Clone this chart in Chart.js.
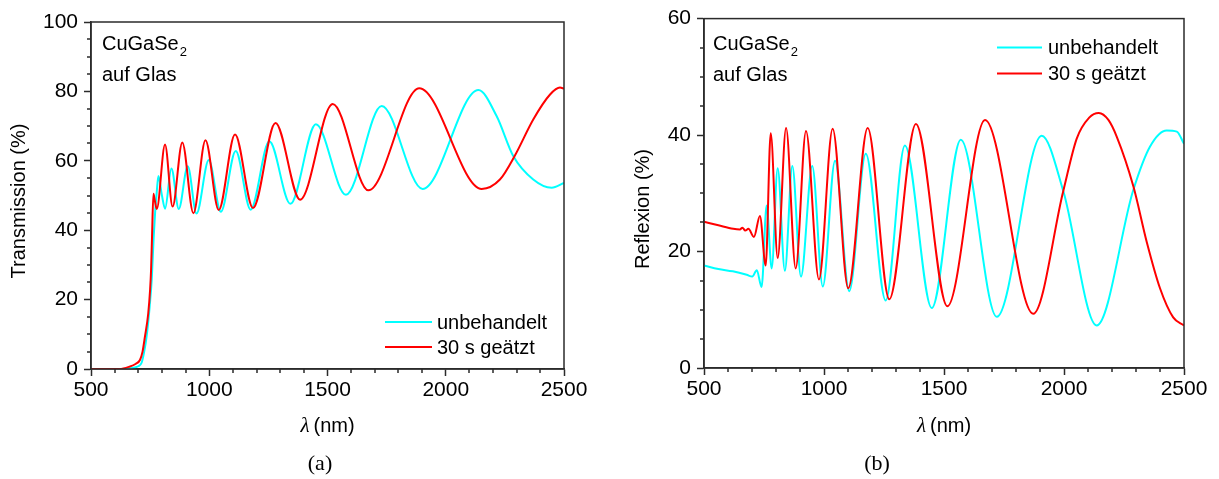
<!DOCTYPE html>
<html>
<head>
<meta charset="utf-8">
<script src="https://cdn.jsdelivr.net/npm/chart.js@4.4.1/dist/chart.umd.min.js"></script>
<style>
  html, body { margin: 0; padding: 0; background: #fff; }
  #wrap { position: relative; width: 1219px; height: 479px; }
  .panel { position: absolute; top: 0; height: 479px; }
  #pa { left: 0; width: 609px; }
  #pb { left: 609px; width: 610px; }
</style>
</head>
<body>
<div id="wrap">
  <div class="panel" id="pa"><canvas id="chartA"></canvas></div>
  <div class="panel" id="pb"><canvas id="chartB"></canvas></div>
</div>
<script>
'use strict';

// ── Data ─────────────────────────────────────────────────────────
const seriesLabels = ['unbehandelt', '30 s geätzt'];
const xTicks = [500, 1000, 1500, 2000, 2500];
const transTicks = [0, 20, 40, 60, 80, 100];
const reflTicks = [0, 20, 40, 60];

// (a) Transmission, unbehandelt
const transNmRaw = [500, 640, 680, 700, 714, 725, 735, 748, 757, 765, 771, 778, 785, 800, 813, 840, 871, 909, 946, 998, 1049, 1112, 1175, 1254, 1343, 1451, 1578, 1729, 1902, 2138, 2215, 2286, 2370, 2448, 2500];
const transRaw   = [0, 0, 0.4, 0.8, 1.8, 5, 9.3, 18, 26, 38, 45, 51, 55.6, 50, 46.2, 57.8, 46.1, 58.4, 44.8, 60.2, 45.3, 62.8, 45.9, 65.6, 47.6, 70.5, 50.2, 75.8, 51.9, 80.4, 72.9, 61.3, 54.6, 52.2, 53.6];

// (a) Transmission, 30 s geätzt
const transNmEtch = [500, 620, 660, 690, 707, 718, 728, 742, 750, 754, 758, 764, 770, 778, 813, 845, 886, 933, 984, 1040, 1109, 1185, 1280, 1384, 1522, 1673, 1888, 2152, 2229, 2293, 2370, 2441, 2483, 2500];
const transEtch   = [0, 0, 0.6, 1.5, 2.6, 5, 9.3, 16, 23, 28.6, 38, 50.5, 48.5, 46.1, 64.7, 46.8, 65.3, 44.9, 65.9, 45.8, 67.6, 46.4, 70.9, 48.8, 76.4, 51.5, 80.9, 51.9, 54.6, 61.6, 71.9, 79.1, 81.1, 80.8];

// (b) Reflexion, unbehandelt
const reflNmRaw = [500, 560, 620, 678, 701, 720, 740, 761, 782, 807, 837, 868, 904, 951, 995, 1046, 1105, 1174, 1257, 1337, 1449, 1570, 1720, 1907, 1997, 2136, 2289, 2358, 2428, 2470, 2500];
const reflRaw   = [17.6, 17.0, 16.6, 16.0, 15.7, 16.8, 13.9, 27.9, 17.1, 34.3, 16.7, 34.7, 15.7, 34.7, 14.0, 35.6, 13.2, 36.8, 11.6, 38.2, 10.3, 39.2, 8.8, 39.9, 30.4, 7.3, 30.6, 38.0, 40.8, 40.6, 38.5];

// (b) Reflexion, 30 s geätzt
const reflNmEtch = [500, 560, 622, 650, 660, 672, 685, 708, 733, 757, 778, 807, 842, 882, 925, 979, 1036, 1101, 1182, 1272, 1383, 1514, 1671, 1872, 1997, 2053, 2105, 2145, 2185, 2220, 2289, 2345, 2400, 2455, 2500];
const reflEtch   = [25.1, 24.5, 23.9, 23.8, 24.1, 23.6, 23.9, 22.5, 26.1, 17.6, 40.3, 18.9, 41.2, 17.1, 40.7, 15.2, 41.1, 13.7, 41.2, 11.8, 41.9, 10.6, 42.6, 9.3, 30.4, 39.4, 43.0, 43.8, 42.6, 39.7, 31.2, 21.6, 13.7, 8.7, 7.3];

// ── Style ────────────────────────────────────────────────────────
const CYAN = '#00ffff';
const RED = '#ff0000';
const AXIS = '#2b2b2b';
const SANS = '"Liberation Sans", Arial, sans-serif';
const SERIF = '"Liberation Serif", "DejaVu Serif", serif';

function points(xs, ys) {
  return xs.map((x, i) => ({ x, y: ys[i] }));
}

// ── Frame, minor ticks, titles, legend, annotation ──────────────
const decoPlugin = {
  id: 'deco',
  afterDraw(chart, args, o) {
    const { ctx, chartArea: a, scales: { x, y } } = chart;
    ctx.save();

    ctx.strokeStyle = AXIS;
    ctx.lineWidth = 1.5;
    ctx.strokeRect(a.left, a.top, a.right - a.left, a.bottom - a.top);

    // minor ticks
    ctx.beginPath();
    for (let v = x.min; v <= x.max; v += 100) {
      if (v % 500 === 0) continue;
      const px = Math.round(x.getPixelForValue(v));
      ctx.moveTo(px, a.bottom); ctx.lineTo(px, a.bottom + 4);
    }
    for (let v = y.min; v <= y.max; v += 5) {
      if (v % 20 === 0) continue;
      const py = Math.round(y.getPixelForValue(v));
      ctx.moveTo(a.left, py); ctx.lineTo(a.left - 4, py);
    }
    ctx.stroke();

    ctx.fillStyle = '#000';
    ctx.textBaseline = 'alphabetic';

    // y title
    ctx.save();
    ctx.translate(o.yTitleX, o.yTitleY);
    ctx.rotate(-Math.PI / 2);
    ctx.font = '20px ' + SANS;
    ctx.textAlign = 'center';
    ctx.textBaseline = 'middle';
    ctx.fillText(o.yTitle, 0, 0);
    ctx.restore();

    // x title: italic lambda + (nm)
    const lam = 'λ', unit = '\u2009(nm)';
    ctx.font = 'italic 21px ' + SERIF;
    const wl = ctx.measureText(lam).width;
    ctx.font = '20px ' + SANS;
    const wu = ctx.measureText(unit).width;
    const tx = (a.left + a.right) / 2 - (wl + wu) / 2;
    const ty = a.bottom + o.xTitleDy;
    ctx.textAlign = 'left';
    ctx.font = 'italic 21px ' + SERIF;
    ctx.fillText(lam, tx, ty);
    ctx.font = '20px ' + SANS;
    ctx.fillText(unit, tx + wl, ty);

    // caption
    ctx.font = '22px ' + SERIF;
    ctx.textAlign = 'center';
    ctx.fillText(o.caption, o.captionX, a.bottom + o.captionDy);

    // sample annotation
    ctx.textAlign = 'left';
    ctx.font = '20px ' + SANS;
    const sx = a.left + o.noteDx;
    ctx.fillText('CuGaSe', sx, a.top + o.noteDy);
    const ws = ctx.measureText('CuGaSe').width;
    ctx.font = '13px ' + SANS;
    ctx.fillText('2', sx + ws + 1, a.top + o.noteDy + 6);
    ctx.font = '20px ' + SANS;
    ctx.fillText('auf Glas', sx, a.top + o.noteDy + 31);

    // legend
    const colors = [CYAN, RED];
    ctx.lineWidth = 2;
    seriesLabels.forEach((lab, i) => {
      const ly = a.top + o.legDy + i * o.legGap;
      ctx.strokeStyle = colors[i];
      ctx.beginPath();
      ctx.moveTo(a.left + o.legX0, ly);
      ctx.lineTo(a.left + o.legX1, ly);
      ctx.stroke();
      ctx.textBaseline = 'middle';
      ctx.fillText(lab, a.left + o.legTx, ly + 1);
    });

    ctx.restore();
  },
};

function makeChart(canvasId, cfg) {
  const tickFont = { family: SANS, size: 21 };
  return new Chart(document.getElementById(canvasId), {
    type: 'line',
    data: {
      datasets: [
        { label: seriesLabels[1], data: points(cfg.nmEtch, cfg.valEtch), borderColor: RED },
        { label: seriesLabels[0], data: points(cfg.nmRaw, cfg.valRaw), borderColor: CYAN },
      ].map(ds => ({
        ...ds,
        borderWidth: 2,
        pointRadius: 0,
        fill: false,
        cubicInterpolationMode: 'monotone',
      })),
    },
    options: {
      responsive: true,
      maintainAspectRatio: false,
      animation: false,
      events: [],
      layout: { padding: cfg.padding },
      scales: {
        x: {
          type: 'linear',
          min: xTicks[0],
          max: xTicks[xTicks.length - 1],
          afterBuildTicks: s => { s.ticks = xTicks.map(v => ({ value: v })); },
          afterFit: s => { s.height = 40; },
          ticks: { font: tickFont, color: '#000', padding: 2, maxRotation: 0, autoSkip: false, callback: v => String(v) },
          grid: { drawOnChartArea: false, drawTicks: true, tickLength: 7, tickColor: AXIS, tickWidth: 1.5 },
          border: { display: true, color: AXIS, width: 1.5 },
        },
        y: {
          min: cfg.yTicks[0],
          max: cfg.yTicks[cfg.yTicks.length - 1],
          afterBuildTicks: s => { s.ticks = cfg.yTicks.map(v => ({ value: v })); },
          afterFit: s => { s.width = cfg.yWidth; },
          ticks: { font: tickFont, color: '#000', padding: 6, callback: v => String(v) },
          grid: { drawOnChartArea: false, drawTicks: true, tickLength: 7, tickColor: AXIS, tickWidth: 1.5 },
          border: { display: true, color: AXIS, width: 1.5 },
        },
      },
      plugins: {
        legend: { display: false },
        tooltip: { enabled: false },
        deco: cfg.deco,
      },
    },
    plugins: [decoPlugin],
  });
}

makeChart('chartA', {
  nmRaw: transNmRaw, valRaw: transRaw, nmEtch: transNmEtch, valEtch: transEtch,
  yTicks: transTicks, yWidth: 91,
  padding: { left: 0, top: 22, right: 45, bottom: 70 },
  deco: {
    yTitle: 'Transmission (%)', yTitleX: 19, yTitleY: 201,
    xTitleDy: 63, caption: '(a)', captionX: 320, captionDy: 101,
    noteDx: 11, noteDy: 28,
    legX0: 294, legX1: 341, legTx: 346, legDy: 300, legGap: 25,
  },
});

makeChart('chartB', {
  nmRaw: reflNmRaw, valRaw: reflRaw, nmEtch: reflNmEtch, valEtch: reflEtch,
  yTicks: reflTicks, yWidth: 95,
  padding: { left: 0, top: 13, right: 35, bottom: 71 },
  deco: {
    yTitle: 'Reflexion (%)', yTitleX: 34, yTitleY: 209,
    xTitleDy: 64, caption: '(b)', captionX: 268, captionDy: 102,
    noteDx: 9, noteDy: 31,
    legX0: 293, legX1: 338, legTx: 344, legDy: 29, legGap: 26,
  },
});
</script>
</body>
</html>
